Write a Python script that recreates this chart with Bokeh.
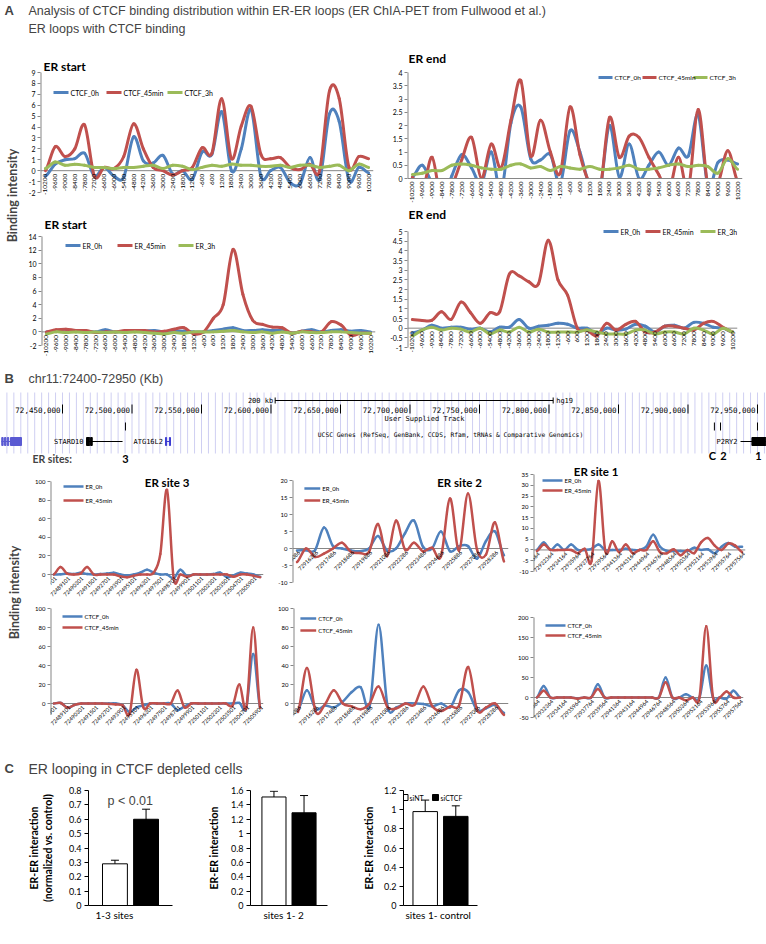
import numpy as np
from bokeh.plotting import figure
from bokeh.models import (Range1d, FactorRange, ColumnDataSource, Label, Title,
                          FixedTicker, Whisker, TeeHead)
from bokeh.layouts import row, column
from bokeh.embed import file_html
from bokeh.resources import INLINE
from bokeh.core.properties import value

# ------------------------------------------------------------------ data
a_offsets = ["-10200", "-9600", "-9000", "-8400", "-7800", "-7200", "-6600", "-6000",
             "-5400", "-4800", "-4200", "-3600", "-3000", "-2400", "-1800", "-1200",
             "-600", "600", "1200", "1800", "2400", "3000", "3600", "4200", "4800",
             "5400", "6000", "6600", "7200", "7800", "8400", "9000", "9600", "10200"]

ctcf_start_0h = [-0.5, 0.6, 1.0, 1.1, 1.6, -0.5, 0.3, -0.5, -0.6, 3.1, 0.9, 0.7, 1.4, -0.3,
                 0.0, -0.8, 1.7, 1.5, 5.4, 0.0, 2.0, 5.6, -0.5, 0.0, 0.3, -1.1, -1.2, 1.2,
                 -0.8, 5.2, 4.5, -0.9, 0.3, -0.2]
ctcf_start_45min = [0.0, 2.2, 1.3, 2.0, 4.2, -0.5, 0.3, 0.2, 1.3, 4.3, 2.0, 0.3, 0.0, -0.4,
                    0.0, 0.3, 2.1, 1.6, 6.6, 1.1, 4.1, 5.9, 1.5, 1.1, 1.2, 0.3, 0.1, 0.6,
                    0.0, 7.3, 6.6, 0.3, 1.3, 1.1]
ctcf_start_3h = [0.2, 0.8, 0.5, 0.6, 0.5, 0.3, 0.3, 0.2, 0.3, 0.3, 0.4, 0.5, 0.2, 0.5, 0.4,
                 0.1, 0.3, 0.5, 0.4, 0.6, 0.5, 0.5, 0.4, 0.4, 0.5, 0.3, 0.5, 0.5, 0.3, 0.4,
                 0.5, 0.0, 0.6, 0.3]

ctcf_end_0h = [0.05, 0.5, -0.2, -0.8, 0.1, 0.9, 0.4, -0.2, 1.0, -0.5, 2.1, 2.7, 0.75, 0.7,
               0.9, -0.2, 1.8, 1.0, -0.3, -0.5, 2.0, 0.05, 1.3, 0.0, 0.5, 1.0, 0.5, 1.15,
               0.85, 2.4, -0.3, 0.6, 0.7, 0.55]
ctcf_end_45min = [0.05, -0.5, 0.8, -1.0, -0.3, 0.7, 1.55, 0.0, 1.3, 0.4, 2.2, 3.7, 0.85, 2.2,
                  1.0, 0.2, 2.7, 0.9, -0.2, -0.5, 2.3, 0.8, 1.6, 1.55, 0.8, 0.15, -0.5, 0.8,
                  -0.4, 2.6, -0.3, -0.2, 1.05, -0.1]
ctcf_end_3h = [0.15, 0.2, 0.3, 0.3, 0.5, 0.55, 0.5, 0.4, 0.35, 0.35, 0.5, 0.55, 0.4, 0.45,
               0.3, 0.45, 0.4, 0.35, 0.45, 0.35, 0.35, 0.4, 0.5, 0.35, 0.35, 0.4, 0.5, 0.55,
               0.45, 0.5, 0.45, 0.2, 0.75, 0.35]

er_start_0h = [0.0, 0.1, 0.0, 0.2, 0.1, 0.0, 0.3, 0.0, 0.1, 0.1, 0.1, 0.2, 0.0, 0.1, 0.1,
               0.0, 0.0, 0.2, 0.4, 0.6, 0.2, 0.2, 0.3, 0.2, 0.2, -0.2, 0.1, 0.3, 0.0, 0.2,
               0.3, 0.1, 0.2, 0.0]
er_start_45min = [0.0, 0.3, 0.4, 0.2, 0.2, -0.1, 0.0, 0.0, 0.2, 0.2, 0.2, 0.0, 0.1, 0.4,
                  0.6, -0.3, 0.0, 2.0, 4.0, 12.1, 5.5, 1.7, 1.1, 0.7, 0.6, -0.2, 0.1, 0.0,
                  0.0, 1.5, 1.0, -0.5, -0.2, -0.2]
er_start_3h = [-0.3, 0.0, -0.1, 0.0, -0.1, 0.0, -0.1, 0.0, -0.1, 0.0, -0.1, -0.2, -0.3, -0.1,
               -0.2, 0.0, 0.0, 0.0, 0.1, 0.2, 0.0, -0.1, 0.0, -0.2, 0.0, -0.2, 0.0, -0.1,
               -0.1, 0.0, 0.0, -0.1, -0.2, -0.2]

er_end_0h = [-0.25, -0.1, 0.15, 0.0, 0.05, 0.05, -0.05, 0.0, -0.2, 0.05, 0.05, 0.45, 0.0,
             0.1, 0.15, 0.25, 0.2, 0.0, 0.0, -0.3, 0.0, -0.1, -0.05, 0.2, 0.1, -0.2, 0.1,
             0.15, 0.0, 0.3, 0.25, 0.05, 0.0, -0.2]
er_end_45min = [0.45, 0.4, 0.4, 0.85, 0.45, 1.35, 0.8, 0.25, 0.8, 0.85, 2.8, 2.7, 2.4, 2.3,
                4.55, 2.5, 1.7, 0.0, -0.1, -0.4, 0.25, -0.1, 0.2, 0.35, -0.2, -0.2, 0.1,
                0.1, 0.0, -0.1, 0.25, 0.35, 0.05, -0.2]
er_end_3h = [-0.4, -0.1, 0.05, -0.1, 0.0, -0.05, -0.2, 0.0, -0.3, -0.1, -0.2, 0.05, -0.2,
             -0.05, -0.2, -0.2, -0.2, -0.2, -0.1, -0.2, -0.3, -0.3, -0.3, -0.1, -0.1, -0.3,
             -0.2, -0.2, -0.3, 0.0, -0.1, -0.3, 0.0, -0.2]

site3_pos = ["72487901", "72488501", "72489101", "72489701", "72490301", "72490901",
             "72491501", "72492101", "72492701", "72493301", "72493901", "72494501",
             "72495101", "72495701", "72496301", "72496901", "72497501", "72498101",
             "72498701", "72499301", "72499901", "72500501", "72501101", "72501701",
             "72502301", "72502901", "72503501", "72504101", "72504701", "72505301",
             "72505901", "72506501"]
site2_pos = ["72915086", "72915686", "72916286", "72916886", "72917486", "72918086",
             "72918686", "72919286", "72919886", "72920486", "72921086", "72921686",
             "72922286", "72922886", "72923486", "72924086", "72924686", "72925286",
             "72925886", "72926486", "72927086", "72927686", "72928286", "72928886"]
site1_pos = ["72930564", "72931464", "72932364", "72933264", "72934164", "72935064",
             "72935964", "72936864", "72937764", "72938664", "72939564", "72940464",
             "72941364", "72942264", "72943164", "72944064", "72944964", "72945864",
             "72946764", "72947664", "72948564", "72949464", "72950364", "72951264",
             "72952164", "72953064", "72953964", "72954864", "72955764", "72956664",
             "72957564"]

site3_er_0h = [0, 0.3, 1, 0.5, 2, 0.5, 0, 0.5, 1, 2, 0, -1, 0, 2, 5, 2, 0, 0, -4, 5, -1.5,
               0, 0, 0, 0.5, 2, -3, -1, 2, 1, 0, -2.5]
site3_er_45min = [0, 8, 1, 0, 1, 8, 0, 0, 0, 0, -2, -3, -1.4, 0, 0, 2, 22, 91, -4, 0, -2.5,
                  0, 0, 0, 0, 0, 0, -2.5, 0, 0, -1.4, -3]
site2_er_0h = [-0.6, -0.5, -0.5, 6.2, 0.7, 0, -0.6, -0.8, 0, 3.7, -0.6, 0, 4.5, 8.2, 0.5,
               0, 5, -0.8, 0.7, 0.7, -3, 2.2, 5, -2]
site2_er_45min = [-4, 0, -2.5, -1.5, 0, 1.7, -1.0, -1.3, -1.0, 7.2, -2.3, 8.2, -0.3, 1.7,
                  -0.8, 0.2, -2.3, 14.7, -0.6, 16.2, -0.3, -1.8, 7.7, -3.8]
site1_er_0h = [0, 3.5, 0, 2.5, 0, 2.5, 0, 0, 0.5, 2.5, 0, 0, 0, 0.5, 0, 0, 1.5, 7, 1.5, -0.5,
               -0.5, -0.5, -0.5, 1, 0, 0.3, -1.5, 1.5, 3.2, 1.5, 1.5]
site1_er_45min = [-0.5, 2.5, 0, 0, 0, 0, -1.5, 0.5, -5, 32, -0.5, 4, -1, 2.5, -1.5, 0, 0, 4,
                  -1, -1.5, 0.3, -2.5, 0, -1.5, 3.5, 5.5, 2, 0, 3, 2, -1]

site3_ctcf_0h = [0, 0.5, -4.5, -1.5, 0, 0, 0, 0, 0, 0, -2, -9, -4, -2, 0, 0, 0, 0, -7, -3, 0,
                 0, 0, 0, 0, 0, 0, 0.5, -4, 52, -4.5]
site3_ctcf_45min = [0, 0.5, -4.5, -1.5, 0, 0, 0, 0, -0.5, -1, -2, -11, 35.5, -4, 0, 0, 0, 0,
                    13.7, -4, 0, 0, 0, 0, 0, 0, -2, 20, -4.5, 80, -4.5]
site2_ctcf_0h = [-7, 14, -6, -2, -4, 2, 12, 17, -3, 83, -3, -4, 0, 0, -0.5, -3, 0, -4, 14, 12,
                 -7, -5, -1.5, -10]
site2_ctcf_45min = [-9, 37.5, -9, -1, 14, 0, -3, -6, 0, 18, -4, -5, 0, -1.5, 18, -3, -8, -3,
                    -1.5, 38.5, -7, -4, 0, -12]
site1_ctcf_0h = [0, 29, 0, 0, 0, 0, -2, 0, 0, 33, 0, 0, 0, 0, 0, 0, 0, 0, 0, 50, 0, 0, 8, 0,
                 0, 80, 0, 0, -3, 17, 0]
site1_ctcf_45min = [0, 17, 0, 0, 0, 0, -3, 0, 0, 21, 0, 0, 0, 0, 0, 0, 0, 0, 0, 38, 0, 0, -7,
                    0, 0, 178, 0, 0, 15, 0, 0]

# UCSC browser track
coord_ticks = [72450000, 72500000, 72550000, 72600000, 72650000, 72700000, 72750000,
               72800000, 72850000, 72900000, 72950000]
scale_bar = [72603000, 72803000]
site_marks = [72495300, 72919000, 72923400, 72950000]
site_names = ["3", "C", "2", "1"]
gene_names = ["", "STARD10", "ATG16L2", "P2RY2"]
gene_start = [72406000, 72467300, 72524100, 72937800]
gene_end = [72420500, 72493200, 72527700, 72956000]
gene_colors = ["#5a5ad2", "#000000", "#3c3cd2", "#000000"]
exon_start = [72406300, 72408300, 72410300, 72412600, 72467300, 72470200, 72524100, 72526900, 72946000]
exon_end = [72407300, 72409300, 72411300, 72420500, 72469600, 72471400, 72524900, 72527700, 72956000]
exon_colors = ["#5a5ad2", "#5a5ad2", "#5a5ad2", "#5a5ad2", "#000000", "#000000", "#3c3cd2", "#3c3cd2", "#000000"]

# Panel C
c_groups = ["siNT", "siCTCF"]
c_sint = [0.29, 1.51, 0.98]
c_sint_err = [0.025, 0.08, 0.12]
c_sictcf = [0.60, 1.29, 0.93]
c_sictcf_err = [0.07, 0.24, 0.11]
c_xlabels = ["1-3 sites", "sites 1- 2", "sites 1- control"]

# ------------------------------------------------------------------ style
BLUE, RED, GREEN = "#4F81BD", "#C0504D", "#9BBB59"
GRAY = "#868686"
LBL = "Lato"
HEAD = "Liberation Sans"
MONO = "DejaVu Sans Mono"


def fmt(t):
    return f"{t:g}"


def base_fig(w, h, left, right, top, bottom, xr, yr, **kw):
    p = figure(width=w, height=h, x_range=xr, y_range=yr, min_border_left=left,
               min_border_right=right, min_border_top=top, min_border_bottom=bottom,
               output_backend="svg", toolbar_location=None, title=None, **kw)
    p.outline_line_color = None
    p.grid.visible = False
    return p


def smooth(p, ys, color, lw):
    y = [float(v) for v in ys]
    n = len(y)
    d = dict(x0=[], y0=[], x1=[], y1=[], cx0=[], cy0=[], cx1=[], cy1=[])
    for i in range(n - 1):
        yp = y[i - 1] if i > 0 else y[i]
        yn = y[i + 2] if i + 2 < n else y[i + 1]
        d["x0"].append(i); d["y0"].append(y[i])
        d["x1"].append(i + 1); d["y1"].append(y[i + 1])
        d["cx0"].append(i + 1 / 3); d["cy0"].append(y[i] + (y[i + 1] - yp) / 6)
        d["cx1"].append(i + 2 / 3); d["cy1"].append(y[i + 1] - (yn - y[i]) / 6)
    return p.bezier(source=ColumnDataSource(d), x0="x0", y0="y0", x1="x1", y1="y1",
                    cx0="cx0", cy0="cy0", cx1="cx1", cy1="cy1",
                    line_color=color, line_width=lw, line_cap="round")


def line_chart(fig, fxr, scale, axis, ticks, cats, series, names, colors, lw, tick_fs,
               lab_fs, lab_angle, lab_step, lab_off, title, title_xy, title_align, title_fs,
               leg_pts, leg_glyph, leg_fs, mask=False):
    """fig: page box of the figure; fxr: page x of the plot area; scale: (v1, page y1,
    v2, page y2) to place the value axis; axis: extent of the drawn value axis line."""
    px0, py0, px1, py1 = fig
    fx0, fx1 = fxr
    v1, p1, v2, p2 = scale
    n = len(cats)
    upp = (v1 - v2) / (p2 - p1)
    y_top = v1 + (p1 - py0) * upp
    y_bot = v2 - (py1 - p2) * upp
    p = base_fig(px1 - px0, py1 - py0, fx0 - px0, px1 - fx1, 0, 0,
                 Range1d(-0.5, n - 0.5), Range1d(y_bot, y_top), x_axis_location=None)

    def to_data(x, y):
        return (-0.5 + (x - fx0) / (fx1 - fx0) * n, y_top - (y - py0) * upp)

    ax = p.yaxis[0]
    ax.ticker = FixedTicker(ticks=ticks)
    ax.major_label_overrides = {t: fmt(t) for t in ticks}
    ax.axis_line_color = None
    ax.major_tick_line_color = GRAY
    ax.major_tick_out = 3
    ax.major_tick_in = 0
    ax.minor_tick_line_color = None
    ax.major_label_standoff = 2
    ax.major_label_text_font = LBL
    ax.major_label_text_font_size = f"{tick_fs}px"
    ax.major_label_text_color = "black"
    p.segment(x0=[-0.5], y0=[axis[0]], x1=[-0.5], y1=[axis[1]], line_color=GRAY, line_width=2)
    if not mask:
        p.segment(x0=[-0.5], y0=[0], x1=[n - 0.5], y1=[0], line_color=GRAY, line_width=1)
    for s, c in zip(series, colors):
        smooth(p, s, c, lw)
    if mask:
        p.quad(left=[-0.5], right=[n - 0.5], bottom=[y_bot], top=[0], fill_color="white",
               line_color=None)
        p.segment(x0=[-0.5], y0=[0], x1=[n - 0.5], y1=[0], line_color=GRAY, line_width=1)
    idx = list(range(0, n, lab_step))
    p.text(x=idx, y=[0] * len(idx), text=[cats[i] for i in idx], angle=lab_angle,
           text_align="right", text_baseline="middle", x_offset=lab_off[0],
           y_offset=lab_off[1], text_font=value(LBL), text_font_size=value(f"{lab_fs}px"),
           text_color="black")
    if title:
        tx, ty = to_data(*title_xy)
        p.text(x=[tx], y=[ty], text=[title], text_align=title_align, text_baseline="middle",
               text_font=value(LBL), text_font_style="bold",
               text_font_size=value(f"{title_fs}px"), text_color="black")
    lx0, lx1, lyy, tx_, ty_ = [], [], [], [], []
    for (lx, ly) in leg_pts:
        a, b = to_data(lx, ly)
        c, _ = to_data(lx + leg_glyph, ly)
        e, _ = to_data(lx + leg_glyph + 2, ly)
        lx0.append(a); lx1.append(c); lyy.append(b); tx_.append(e); ty_.append(b)
    p.segment(x0=lx0, y0=lyy, x1=lx1, y1=lyy, line_color=colors[:len(leg_pts)],
              line_width=lw, line_cap="butt")
    p.text(x=tx_, y=ty_, text=names, text_align="left", text_baseline="middle",
           text_font=value(LBL), text_font_size=value(f"{leg_fs}px"), text_color="black")
    return p


def text_fig(x0, y0, x1, y1):
    return base_fig(x1 - x0, y1 - y0, 0, 0, 0, 0, Range1d(x0, x1), Range1d(y1, y0),
                    x_axis_location=None, y_axis_location=None)


W = 766
# ------------------------------------------------------------------ header A
hdr = text_fig(0, 0, W, 52)
hdr.add_layout(Label(x=4, y=10, text="A", text_font=HEAD, text_font_style="bold",
                     text_font_size="13px", text_baseline="middle"))
hdr.add_layout(Label(x=28, y=10, text="Analysis of CTCF binding distribution within ER-ER loops (ER ChIA-PET from Fullwood et al.)",
                     text_font=HEAD, text_font_size="12.5px", text_baseline="middle"))
hdr.add_layout(Label(x=28, y=28, text="ER loops with CTCF binding", text_font=HEAD,
                     text_font_size="12.5px", text_baseline="middle"))

stripA = text_fig(0, 52, 25, 362)
stripA.add_layout(Label(x=12, y=195, text="Binding intensity", angle=np.pi / 2,
                        text_font=LBL, text_font_style="bold", text_font_size="12.5px",
                        text_align="center", text_baseline="middle"))

COLS3 = [BLUE, RED, GREEN]
VERT = np.pi / 2
DIAG = np.pi / 4
A1 = line_chart((25, 52, 385, 208), (40, 373), (9, 72, -2, 192), (-2, 9),
                [-2, -1, 0, 1, 2, 3, 4, 5, 6, 7, 8, 9], a_offsets,
                [ctcf_start_0h, ctcf_start_45min, ctcf_start_3h],
                ["CTCF_0h", "CTCF_45min", "CTCF_3h"], COLS3, 3, 7, 6.5, VERT, 1, (0, 3),
                "ER start", (43, 66), "left", 12,
                [(53, 92), (106, 92), (167, 92)], 15, 7)
A2 = line_chart((385, 52, W, 208), (407, 742), (4, 72, 0, 178), (0, 4),
                [0, 0.5, 1, 1.5, 2, 2.5, 3, 3.5, 4], a_offsets,
                [ctcf_end_0h, ctcf_end_45min, ctcf_end_3h],
                ["CTCF_0h", "CTCF_45min", "CTCF_3h"], COLS3, 3, 7, 6.5, VERT, 1, (0, 3),
                "ER end", (408, 58), "left", 12,
                [(598, 77), (642, 77), (693, 77)], 14, 6.5, mask=True)
A3 = line_chart((25, 208, 385, 362), (41, 375), (14, 236, -2, 345), (-2, 14),
                [-2, 0, 2, 4, 6, 8, 10, 12, 14], a_offsets,
                [er_start_0h, er_start_45min, er_start_3h],
                ["ER_0h", "ER_45min", "ER_3h"], COLS3, 3, 7, 6.5, VERT, 1, (0, 3),
                "ER start", (44, 224), "left", 12,
                [(65, 245), (117, 245), (178, 245)], 15, 7)
A4 = line_chart((385, 208, W, 362), (407, 737), (5, 231, -1, 347), (-1, 5),
                [-1, -0.5, 0, 0.5, 1, 1.5, 2, 2.5, 3, 3.5, 4, 4.5, 5], a_offsets,
                [er_end_0h, er_end_45min, er_end_3h],
                ["ER_0h", "ER_45min", "ER_3h"], COLS3, 3, 7, 6.5, VERT, 1, (0, 3),
                "ER end", (408, 214), "left", 12,
                [(603, 231), (645, 231), (700, 231)], 15, 7)

# ------------------------------------------------------------------ UCSC browser
BP_PER_PX = 719.43
BP0 = 72411150 - 8 * BP_PER_PX
BP1 = BP0 + W * BP_PER_PX


def bp(px):
    return BP0 + px * BP_PER_PX


u = base_fig(W, 104, 0, 0, 0, 0, Range1d(BP0, BP1), Range1d(466, 362),
             x_axis_location=None, y_axis_location=None)
u.add_layout(Label(x=bp(4), y=378, text="B", text_font=HEAD, text_font_style="bold",
                   text_font_size="13px", text_baseline="middle"))
u.add_layout(Label(x=bp(28), y=378, text="chr11:72400-72950 (Kb)", text_font=HEAD,
                   text_font_size="12.5px", text_baseline="middle"))
guides = list(range(72410000, 72956000, 5000))
u.segment(x0=guides, y0=[392] * len(guides), x1=guides, y1=[453] * len(guides),
          line_color="#CFCFF2", line_width=1)
u.segment(x0=[scale_bar[0]], y0=[400], x1=[scale_bar[1]], y1=[400], line_color="black", line_width=1)
u.segment(x0=scale_bar, y0=[397, 397], x1=scale_bar, y1=[403, 403], line_color="black", line_width=1)
u.text(x=[scale_bar[0]], y=[400], text=["200 kb"], x_offset=-2, text_align="right",
       text_baseline="middle", text_font=value(MONO), text_font_size=value("7px"))
u.text(x=[scale_bar[1]], y=[400], text=["hg19"], x_offset=3, text_align="left",
       text_baseline="middle", text_font=value(MONO), text_font_size=value("7px"))
u.segment(x0=coord_ticks, y0=[404] * len(coord_ticks), x1=coord_ticks,
          y1=[413] * len(coord_ticks), line_color="black", line_width=1)
u.text(x=coord_ticks, y=[409] * len(coord_ticks), text=[f"{c:,}" for c in coord_ticks],
       x_offset=-2, text_align="right", text_baseline="middle", text_font=value(MONO),
       text_font_size=value("7.5px"))
u.text(x=[bp(424)], y=[418], text=["User Supplied Track"], text_align="center",
       text_baseline="middle", text_font=value(MONO), text_font_size=value("7px"))
u.segment(x0=site_marks, y0=[422] * 4, x1=site_marks, y1=[430] * 4, line_color="black",
          line_width=1)
u.text(x=[bp(450)], y=[434], text=["UCSC Genes (RefSeq, GenBank, CCDS, Rfam, tRNAs & Comparative Genomics)"],
       text_align="center", text_baseline="middle", text_font=value(MONO),
       text_font_size=value("6.3px"))
u.segment(x0=gene_start, y0=[441] * 4, x1=gene_end, y1=[441] * 4, line_color=gene_colors,
          line_width=1)
u.quad(left=exon_start, right=exon_end, top=[437] * len(exon_start),
       bottom=[445] * len(exon_start), fill_color=exon_colors, line_color=exon_colors)
u.text(x=[gene_start[1], gene_start[3]], y=[441, 441], text=[gene_names[1], gene_names[3]],
       x_offset=-3, text_align="right", text_baseline="middle", text_font=value(MONO),
       text_font_size=value("7px"))
u.text(x=[gene_start[2]], y=[441], text=[gene_names[2]], x_offset=-32, text_align="left",
       text_baseline="middle", text_font=value(MONO), text_font_size=value("7px"))
u.add_layout(Label(x=bp(32), y=458.5, text="ER sites:", text_font=LBL, text_font_style="bold",
                   text_font_size="10.5px", text_baseline="middle"))
u.text(x=site_marks, y=[458.5, 455, 455, 455], text=site_names, x_offset=[0, -2, 3, 1],
       text_align="center", text_baseline="middle", text_font=value(LBL),
       text_font_style="bold", text_font_size=value("11px"))

# ------------------------------------------------------------------ panel B charts
stripB = text_fig(0, 466, 25, 735)
stripB.add_layout(Label(x=14, y=592, text="Binding intensity", angle=np.pi / 2,
                        text_font=LBL, text_font_style="bold", text_font_size="12.5px",
                        text_align="center", text_baseline="middle"))

COLS2 = [BLUE, RED]
S3a = line_chart((25, 466, 275, 602), (50, 263), (100, 481, 0, 574), (-5, 100),
                 [0, 20, 40, 60, 80, 100], site3_pos, [site3_er_0h, site3_er_45min],
                 ["ER_0h", "ER_45min"], COLS2, 2.5, 6, 5.5, DIAG, 2, (2, 3),
                 "ER  site 3", (168, 482), "center", 11.5,
                 [(63, 486), (63, 500)], 20, 6)
S2a = line_chart((275, 466, 515, 602), (290, 508), (20, 480, -10, 582), (-10, 20),
                 [-10, -5, 0, 5, 10, 15, 20], site2_pos, [site2_er_0h, site2_er_45min],
                 ["ER_0h", "ER_45min"], COLS2, 2.5, 6, 5.5, DIAG, 2, (2, 3),
                 "ER  site 2", (460, 482), "center", 11.5,
                 [(302, 488), (302, 500)], 16, 6)
S1a = line_chart((515, 466, W, 602), (533, 745), (35, 474, -10, 571), (-10, 35),
                 [-10, -5, 0, 5, 10, 15, 20, 25, 30, 35], site1_pos,
                 [site1_er_0h, site1_er_45min], ["ER_0h", "ER_45min"], COLS2, 2.5, 6, 5.5,
                 DIAG, 2, (2, 3), "ER  site 1", (597, 471), "center", 11.5,
                 [(542, 480), (542, 490)], 20, 6)
S3b = line_chart((25, 602, 275, 735), (50, 263), (100, 608, 0, 703), (-12, 100),
                 [0, 20, 40, 60, 80, 100], site3_pos[:31],
                 [site3_ctcf_0h, site3_ctcf_45min], ["CTCF_0h", "CTCF_45min"], COLS2,
                 2.5, 6, 5.5, DIAG, 2, (2, 3), "", (0, 0), "center", 11,
                 [(62, 616), (62, 627)], 20, 6)
S2b = line_chart((275, 602, 515, 735), (290, 508), (100, 608, 0, 703), (-12, 100),
                 [0, 20, 40, 60, 80, 100], site2_pos,
                 [site2_ctcf_0h, site2_ctcf_45min], ["CTCF_0h", "CTCF_45min"], COLS2,
                 2.5, 6, 5.5, DIAG, 2, (2, 3), "", (0, 0), "center", 11,
                 [(297, 618), (297, 630)], 16, 6)
S1b = line_chart((515, 602, W, 735), (533, 743), (200, 617, -50, 717), (-50, 200),
                 [-50, 0, 50, 100, 150, 200], site1_pos,
                 [site1_ctcf_0h, site1_ctcf_45min], ["CTCF_0h", "CTCF_45min"], COLS2,
                 2.5, 6, 5.5, DIAG, 2, (2, 3), "", (0, 0), "center", 11,
                 [(545, 625), (545, 635)], 20, 6)

# ------------------------------------------------------------------ panel C
hdrC = text_fig(0, 735, W, 782)
hdrC.add_layout(Label(x=4, y=768, text="C", text_font=HEAD, text_font_style="bold",
                      text_font_size="13px", text_baseline="middle"))
hdrC.add_layout(Label(x=28, y=768, text="ER looping in CTCF depleted cells", text_font=HEAD,
                      text_font_size="14px", text_baseline="middle"))


def bar_chart(fig, frm, i, yr, ticks, pad, ylabel, ystand, xlabel_x, legend=False, extra=None):
    px0, py0, px1, py1 = fig
    fx0, fy0, fx1, fy1 = frm
    p = base_fig(px1 - px0, py1 - py0, fx0 - px0, px1 - fx1, fy0 - py0, py1 - fy1,
                 FactorRange(factors=c_groups, range_padding=pad, range_padding_units="absolute"),
                 Range1d(yr[0], yr[1]))
    xa = p.xaxis[0]
    xa.ticker = FixedTicker(ticks=[])
    xa.major_tick_line_color = None
    xa.axis_line_color = "black"
    xa.major_label_standoff = 0
    ya = p.yaxis[0]
    ya.ticker = FixedTicker(ticks=ticks)
    ya.major_label_overrides = {t: fmt(t) for t in ticks}
    ya.axis_line_color = "black"
    ya.major_tick_line_color = "black"
    ya.major_tick_out = 4
    ya.major_tick_in = 0
    ya.minor_tick_line_color = None
    ya.major_label_standoff = 3
    ya.major_label_text_font = LBL
    ya.major_label_text_font_size = "9px"
    ya.major_label_text_color = "black"
    ya.axis_label = ylabel
    ya.axis_label_text_font = LBL
    ya.axis_label_text_font_style = "bold"
    ya.axis_label_text_font_size = "10.5px"
    ya.axis_label_text_color = "black"
    ya.axis_label_standoff = ystand
    p.vbar(x=[c_groups[0]], top=[c_sint[i]], width=0.8, fill_color="white",
           line_color="black", line_width=1)
    p.vbar(x=[c_groups[1]], top=[c_sictcf[i]], width=0.8, fill_color="black",
           line_color="black", line_width=1)
    src = ColumnDataSource(dict(base=c_groups,
                                upper=[c_sint[i] + c_sint_err[i], c_sictcf[i] + c_sictcf_err[i]],
                                lower=[c_sint[i] - c_sint_err[i], c_sictcf[i] - c_sictcf_err[i]]))
    p.add_layout(Whisker(source=src, base="base", upper="upper", lower="lower",
                         line_color="black", line_width=1,
                         upper_head=TeeHead(size=8, line_color="black", line_width=1),
                         lower_head=TeeHead(size=8, line_color="black", line_width=1)))
    p.add_layout(Title(text=c_xlabels[i], align="left", offset=xlabel_x - fx0, standoff=2,
                       text_font=LBL, text_font_size="10px", text_font_style="normal",
                       text_color="black"), "below")

    def to_y(y):
        return yr[1] - (y - fy0) / (fy1 - fy0) * (yr[1] - yr[0])
    n_units = 2 + 2 * pad

    def to_x(x):
        return (x - fx0) / (fx1 - fx0) * n_units - pad
    if extra:
        p.add_layout(Label(x=to_x(extra[1]), y=to_y(extra[2]), text=extra[0], text_font=HEAD,
                           text_font_size="12.5px", text_baseline="middle"))
    if legend:
        ly = to_y(797)
        p.rect(x=[to_x(404.5), to_x(435)], y=[ly, ly], width=6, height=6,
               width_units="screen", height_units="screen",
               fill_color=["white", "black"], line_color="black", line_width=1)
        p.text(x=[to_x(409), to_x(440)], y=[ly, ly], text=c_groups, text_align="left",
               text_baseline="middle", text_font=value(LBL), text_font_size=value("7px"),
               text_color="black")
    return p


C1 = bar_chart((0, 782, 200, 944), (88, 789, 172, 905), 0, (0, 0.8),
               [0, 0.1, 0.2, 0.3, 0.4, 0.5, 0.6, 0.7, 0.8], 0.35,
               "ER-ER interaction\n(normalized vs. control)", 12, 95,
               extra=("p < 0.01", 107, 800))
C2 = bar_chart((200, 782, 350, 944), (250, 790, 327, 905), 1, (0, 1.6),
               [0, 0.2, 0.4, 0.6, 0.8, 1, 1.2, 1.4, 1.6], 0.28,
               "ER-ER interaction", 8, 263)
C3 = bar_chart((350, 782, 500, 944), (403, 790, 477, 905), 2, (0, 1.2),
               [0, 0.2, 0.4, 0.6, 0.8, 1, 1.2], 0.21,
               "ER-ER interaction", 6, 405, legend=True)

layout = column(
    hdr,
    row(stripA, column(row(A1, A2), row(A3, A4))),
    u,
    row(stripB, column(row(S3a, S2a, S1a), row(S3b, S2b, S1b))),
    hdrC,
    row(C1, C2, C3),
)

open("out.html", "w").write(file_html(layout, INLINE, "figure"))
